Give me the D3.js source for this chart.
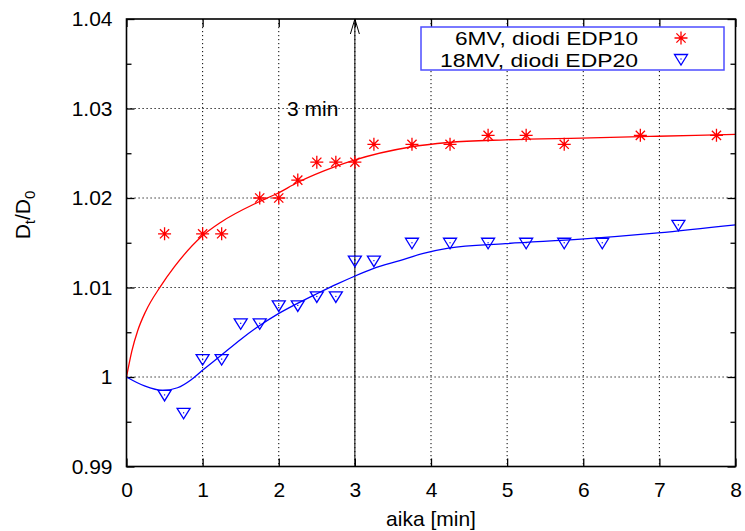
<!DOCTYPE html>
<html><head><meta charset="utf-8">
<script src="https://cdn.jsdelivr.net/npm/d3@7"></script>
<style>
body{margin:0;background:#fff;}
svg text{font-family:"Liberation Sans",Arial,sans-serif;}
</style></head>
<body><svg id="c" width="745" height="531"></svg>
<script>
// Measured points
const redX = [0.5,1,1.25,1.75,2,2.25,2.5,2.75,3,3.25,3.75,4.25,4.75,5.25,5.75,6.75,7.75];
const redY = [1.016,1.016,1.016,1.020,1.020,1.022,1.024,1.024,1.024,1.026,1.026,1.026,1.027,1.027,1.026,1.027,1.027];
const blueX = [0.5,0.75,1,1.25,1.5,1.75,2,2.25,2.5,2.75,3,3.25,3.75,4.25,4.75,5.25,5.75,6.25,7.25];
const blueY = [0.998,0.996,1.002,1.002,1.006,1.006,1.008,1.008,1.009,1.009,1.013,1.013,1.015,1.015,1.015,1.015,1.015,1.015,1.017];
// Fitted curves
const redFitX = [0,0.07,0.148,0.25,0.445,0.628,0.986,1.24,1.72,1.98,2.24,2.74,2.98,3.73,4.23,4.98,5.97,6.98,8.0];
const redFitY = [1.0,1.0029,1.0052,1.0073,1.0101,1.0123,1.0157,1.0173,1.0195,1.0205,1.0217,1.0235,1.0242,1.0257,1.0262,1.0265,1.0267,1.0269,1.0271];
const blueFitX = [0,0.236,0.475,0.67,0.85,0.99,1.24,1.5,1.74,1.98,2.24,2.5,2.77,2.98,3.24,3.59,3.9,4.23,4.98,5.97,6.98,8.0];
const blueFitY = [1.0,0.9990,0.9985,0.9988,0.9997,1.0007,1.0024,1.0042,1.0057,1.0070,1.0082,1.0093,1.0104,1.0112,1.0121,1.0130,1.0138,1.0144,1.0149,1.0154,1.0161,1.0170];
const xTicks = [0,1,2,3,4,5,6,7,8];
const yTicks = [0.99,1.0,1.01,1.02,1.03,1.04];
const yMinorTicks = [0.995,1.005,1.015,1.025,1.035];
const legendLabels = ["6MV, diodi EDP10","18MV, diodi EDP20"];
const seriesColors = ["#ff0000","#0000ff"];

const L=126.5,R=735.5,T=19,B=466.5;
const svg=d3.select("#c");
const x=d3.scaleLinear().domain([0,8]).range([L,R]);
const y=d3.scaleLinear().domain([0.99,1.04]).range([B,T]);
const fs=21;

// grid
const g=svg.append("g");
g.selectAll(".gx").data(xTicks.slice(1,-1)).enter().append("line")
 .attr("x1",d=>x(d)).attr("x2",d=>x(d)).attr("y1",T).attr("y2",B)
 .attr("stroke","#000").attr("stroke-width",1).attr("stroke-dasharray","1.2,2.8");
g.selectAll(".gy").data(yTicks.slice(1,-1)).enter().append("line")
 .attr("x1",L).attr("x2",R).attr("y1",d=>y(d)).attr("y2",d=>y(d))
 .attr("stroke","#000").attr("stroke-width",1).attr("stroke-dasharray","1.2,2.8");

// axes with mirrored inward ticks
const axB=d3.axisBottom(x).tickValues(xTicks).tickSize(-8).tickPadding(16).tickFormat(d3.format("d"));
const axT=d3.axisTop(x).tickValues(xTicks).tickSize(-8).tickFormat("");
const axL=d3.axisLeft(y).tickValues(yTicks).tickSize(-8).tickPadding(14).tickFormat(d=>d===1?"1":d3.format(".2f")(d));
const axR=d3.axisRight(y).tickValues(yTicks).tickSize(-8).tickFormat("");
const axLm=d3.axisLeft(y).tickValues(yMinorTicks).tickSize(-5).tickFormat("");
const axRm=d3.axisRight(y).tickValues(yMinorTicks).tickSize(-5).tickFormat("");
function style(sel){sel.select(".domain").remove();sel.selectAll("line").attr("stroke","#000").attr("stroke-width",1.3);
 sel.selectAll("text").attr("font-size",fs).attr("fill","#000").attr("font-family","Liberation Sans, Arial, sans-serif");}
svg.append("g").attr("transform",`translate(0,${B})`).call(axB).call(style);
svg.append("g").attr("transform",`translate(0,${T})`).call(axT).call(style);
svg.append("g").attr("transform",`translate(${L},0)`).call(axL).call(style);
svg.append("g").attr("transform",`translate(${R},0)`).call(axR).call(style);
svg.append("g").attr("transform",`translate(${L},0)`).call(axLm).call(style);
svg.append("g").attr("transform",`translate(${R},0)`).call(axRm).call(style);

// arrow at 3 min
svg.append("line").attr("x1",x(3)).attr("x2",x(3)).attr("y1",y(0.99)).attr("y2",y(1.04))
 .attr("stroke","#000").attr("stroke-width",1);
svg.append("path").attr("d",`M${x(3)-4.5},${y(1.04)+15}L${x(3)},${y(1.04)}L${x(3)+4.5},${y(1.04)+15}`)
 .attr("fill","none").attr("stroke","#000").attr("stroke-width",1);
svg.append("text").attr("x",x(2.11)).attr("y",y(1.03)+7).attr("font-size",fs).text("3 min");

// curves
const line=d3.line().x(d=>x(d[0])).y(d=>y(d[1])).curve(d3.curveMonotoneX);
svg.append("path").datum(d3.zip(redFitX,redFitY)).attr("d",line).attr("fill","none").attr("stroke",seriesColors[0]).attr("stroke-width",1.3);
svg.append("path").datum(d3.zip(blueFitX,blueFitY)).attr("d",line).attr("fill","none").attr("stroke",seriesColors[1]).attr("stroke-width",1.3);

// markers
function star(sel,c){const s=6.5,d=4.6;
 sel.append("path").attr("d",`M${-s},0H${s}M0,${-s}V${s}M${-d},${-d}L${d},${d}M${-d},${d}L${d},${-d}`)
 .attr("stroke",c).attr("stroke-width",1.3).attr("fill","none");}
function tri(sel,c){
 sel.append("path").attr("d","M-6.5,-4.5H6.5L0,6Z").attr("stroke",c).attr("stroke-width",1.3).attr("fill","none");
 sel.append("rect").attr("x",-0.6).attr("y",-0.6).attr("width",1.2).attr("height",1.2).attr("fill",c);}
svg.selectAll(".rp").data(d3.zip(redX,redY)).enter().append("g")
 .attr("transform",d=>`translate(${x(d[0])},${y(d[1])})`).each(function(){star(d3.select(this),seriesColors[0]);});
svg.selectAll(".bp").data(d3.zip(blueX,blueY)).enter().append("g")
 .attr("transform",d=>`translate(${x(d[0])},${y(d[1])})`).each(function(){tri(d3.select(this),seriesColors[1]);});

// frame
svg.append("rect").attr("x",L).attr("y",T).attr("width",R-L).attr("height",B-T)
 .attr("fill","none").attr("stroke","#000").attr("stroke-width",1.6);

// legend
svg.append("rect").attr("x",421).attr("y",27).attr("width",303).attr("height",43)
 .attr("fill","#fff").attr("stroke","#4d4dff").attr("stroke-width",1.5);
const legW=[183,198];
legendLabels.forEach((t,i)=>{
 svg.append("text").attr("x",638).attr("y",45+i*21.5).attr("text-anchor","end").attr("font-size",19)
  .attr("textLength",legW[i]).attr("lengthAdjust","spacingAndGlyphs").text(t);
 const m=svg.append("g").attr("transform",`translate(681,${38+i*21})`);
 if(i===0) star(m,seriesColors[0]); else tri(m,seriesColors[1]);
});

// axis labels
svg.append("text").attr("x",(L+R)/2).attr("y",526).attr("text-anchor","middle").attr("font-size",fs).text("aika [min]");
const yl=svg.append("text").attr("transform","translate(30,215) rotate(-90)").attr("text-anchor","middle").attr("font-size",fs);
yl.append("tspan").text("D");
yl.append("tspan").attr("font-size",15).attr("dy",5).text("t");
yl.append("tspan").attr("dy",-5).text("/D");
yl.append("tspan").attr("font-size",15).attr("dy",5).text("0");
</script></body></html>
